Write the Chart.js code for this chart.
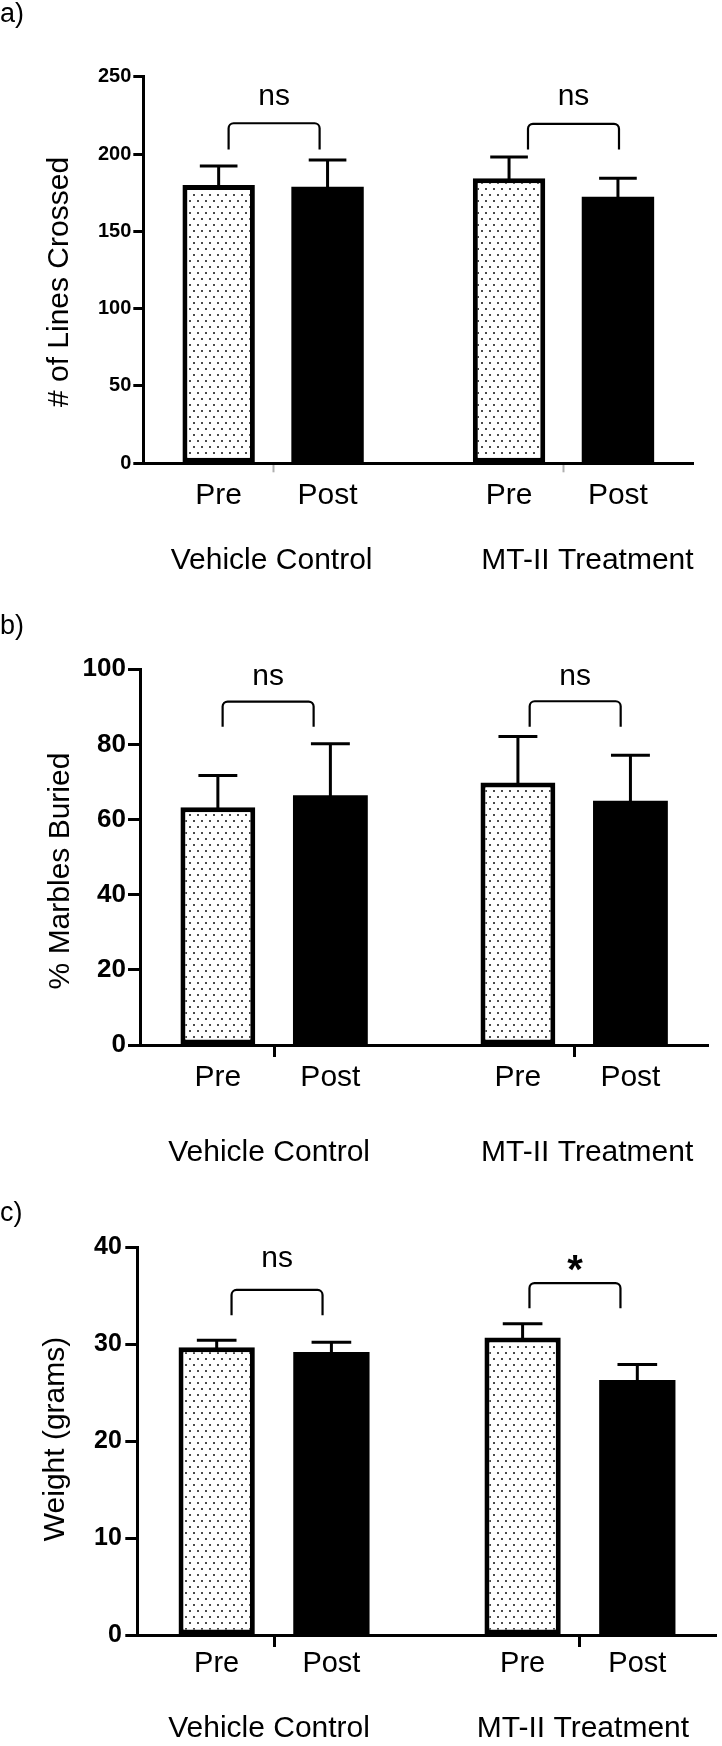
<!DOCTYPE html>
<html>
<head>
<meta charset="utf-8">
<script src="https://cdn.jsdelivr.net/npm/chart.js@4.4.1/dist/chart.umd.min.js"></script>
<style>
html, body { margin: 0; padding: 0; background: #fff; }
#wrap { position: relative; width: 722px; height: 1746px; overflow: hidden; background: #fff; }
#wrap canvas { position: absolute; left: 0; }
</style>
</head>
<body>
<div id="wrap">
  <canvas id="ca" width="722" height="590" style="top:0px"></canvas>
  <canvas id="cb" width="722" height="580" style="top:590px"></canvas>
  <canvas id="cc" width="722" height="576" style="top:1170px"></canvas>
</div>
<script>
// ---------------- DATA ----------------
const groups = ['Vehicle Control', 'MT-II Treatment'];
const conditions = ['Pre', 'Post'];

// a) Lines crossed
const linesPre = [180.0, 184.3];
const linesPost = [178.9, 172.3];
const linesPreErr = [12.3, 13.8];
const linesPostErr = [17.3, 12.0];
const linesTicks = [0, 50, 100, 150, 200, 250];
const linesSig = ['ns', 'ns'];
const linesBracketTop = [219.9, 219.5];
const linesBracketLeg = [203.0, 203.0];
const linesSigBase = [231.8, 231.8];

// b) Marbles buried
const marblesPre = [63.3, 69.9];
const marblesPost = [66.5, 65.0];
const marblesPreErr = [8.4, 12.2];
const marblesPostErr = [13.7, 12.1];
const marblesTicks = [0, 20, 40, 60, 80, 100];
const marblesSig = ['ns', 'ns'];
const marblesBracketTop = [91.4, 91.5];
const marblesBracketLeg = [84.7, 84.7];
const marblesSigBase = [95.9, 95.7];

// c) Weight
const weightPre = [29.7, 30.7];
const weightPost = [29.2, 26.3];
const weightPreErr = [0.7, 1.4];
const weightPostErr = [1.0, 1.6];
const weightTicks = [0, 10, 20, 30, 40];
const weightSig = ['ns', '*'];
const weightBracketTop = [35.6, 36.3];
const weightBracketLeg = [33.0, 33.7];
const weightSigBase = [38.0, 37.6];

// ---------------- STYLE / LAYOUT ----------------
const FONT = "'Liberation Sans', Arial, Helvetica, sans-serif";
Chart.defaults.font.family = FONT;
Chart.defaults.color = '#000';

const panels = [
  { id: 'ca', letter: 'a)', title: '# of Lines Crossed',
    pre: linesPre, post: linesPost, preErr: linesPreErr, postErr: linesPostErr,
    ticks: linesTicks, sig: linesSig, bTop: linesBracketTop, bLeg: linesBracketLeg, sigBase: linesSigBase,
    canvasTop: 0, height: 590, area: { left: 143.3, right: 693.3, top: 76.7, bottom: 463.3 },
    tickFont: 20, tickLen: 10, tickPad: 2, sepColor: '#b0b0b0', sepWidth: 2, sepLen: 9,
    letterY: 22, titleX: 68, titleY: 282, condDy: 40.7, condFont: 30, groupDy: 106,
    groupDx: [-1.5, 24], bracketDx: [1, 10] },
  { id: 'cb', letter: 'b)', title: '% Marbles Buried',
    pre: marblesPre, post: marblesPost, preErr: marblesPreErr, postErr: marblesPostErr,
    ticks: marblesTicks, sig: marblesSig, bTop: marblesBracketTop, bLeg: marblesBracketLeg, sigBase: marblesSigBase,
    canvasTop: 590, height: 580, area: { left: 140, right: 708.3, top: 669.3, bottom: 1045 },
    tickFont: 26, tickLen: 12, tickPad: 2, sepColor: '#000', sepWidth: 3, sepLen: 12,
    letterY: 634, titleX: 69, titleY: 871, condDy: 41, condFont: 30, groupDy: 116,
    groupDx: [-5, 13], bracketDx: [-6, 1] },
  { id: 'cc', letter: 'c)', title: 'Weight (grams)',
    pre: weightPre, post: weightPost, preErr: weightPreErr, postErr: weightPostErr,
    ticks: weightTicks, sig: weightSig, bTop: weightBracketTop, bLeg: weightBracketLeg, sigBase: weightSigBase,
    canvasTop: 1170, height: 576, area: { left: 137.3, right: 716.7, top: 1247.3, bottom: 1635 },
    tickFont: 25, tickLen: 12, tickPad: 3.5, sepColor: '#000', sepWidth: 3, sepLen: 12,
    letterY: 1221, titleX: 64, titleY: 1439, condDy: 37, condFont: 29, groupDy: 102,
    groupDx: [-5, 3], bracketDx: [3, -5] }
];

// dotted fill for the "Pre" bars
function makeDots() {
  const pc = document.createElement('canvas');
  pc.width = 8; pc.height = 12;
  const g = pc.getContext('2d');
  g.fillStyle = '#ffffff'; g.fillRect(0, 0, 8, 12);
  g.fillStyle = '#4a4a4a';
  g.fillRect(1, 2, 2, 2);
  g.fillRect(5, 8, 2, 2);
  return g.createPattern(pc, 'repeat');
}

function buildChart(P) {
  const canvas = document.getElementById(P.id);
  const ctx0 = canvas.getContext('2d');
  const dots = makeDots();
  const localTop = P.area.top - P.canvasTop;
  const localBottom = P.area.bottom - P.canvasTop;

  const annot = {
    id: 'annot_' + P.id,
    afterDraw(chart) {
      const ctx = chart.ctx;
      const xs = chart.scales.x, ys = chart.scales.y;
      const axisY = chart.chartArea.bottom;
      ctx.save();
      ctx.fillStyle = '#000';
      ctx.strokeStyle = '#000';

      // error bars (upper only)
      const sets = [[chart.getDatasetMeta(0), P.pre, P.preErr], [chart.getDatasetMeta(1), P.post, P.postErr]];
      sets.forEach(([meta, vals, errs]) => {
        meta.data.forEach((bar, i) => {
          const x = bar.x, w = bar.width;
          const yTop = ys.getPixelForValue(vals[i]);
          const yCap = ys.getPixelForValue(vals[i] + errs[i]);
          ctx.lineWidth = 3; ctx.lineCap = 'butt';
          ctx.beginPath(); ctx.moveTo(x, yTop + 2); ctx.lineTo(x, yCap); ctx.stroke();
          ctx.beginPath(); ctx.moveTo(x - w * 0.26, yCap); ctx.lineTo(x + w * 0.26, yCap); ctx.stroke();
        });
      });

      // brackets + significance labels
      groups.forEach((g, i) => {
        const cx = xs.getPixelForValue(i) + P.bracketDx[i];
        const half = 45.5;
        const x1 = cx - half, x2 = cx + half;
        const yt = ys.getPixelForValue(P.bTop[i]);
        const yb = ys.getPixelForValue(P.bLeg[i]);
        const r = 5;
        ctx.lineWidth = 2.2; ctx.lineJoin = 'round';
        ctx.beginPath();
        ctx.moveTo(x1, yb);
        ctx.lineTo(x1, yt + r);
        ctx.arcTo(x1, yt, x1 + r, yt, r);
        ctx.lineTo(x2 - r, yt);
        ctx.arcTo(x2, yt, x2, yt + r, r);
        ctx.lineTo(x2, yb);
        ctx.stroke();

        const txt = P.sig[i];
        ctx.font = (txt === '*' ? 'bold 40px ' : '30px ') + FONT;
        ctx.textAlign = 'center'; ctx.textBaseline = 'alphabetic';
        const m = ctx.measureText(txt);
        const yBottom = ys.getPixelForValue(P.sigBase[i]);
        ctx.fillText(txt, cx, yBottom - m.actualBoundingBoxDescent);
      });

      // condition labels under each bar
      ctx.font = P.condFont + 'px ' + FONT;
      ctx.textAlign = 'center'; ctx.textBaseline = 'alphabetic';
      [chart.getDatasetMeta(0), chart.getDatasetMeta(1)].forEach((meta, d) => {
        meta.data.forEach((bar) => {
          ctx.fillText(conditions[d], bar.x, axisY + P.condDy);
        });
      });

      // group labels
      ctx.font = '30px ' + FONT;
      groups.forEach((g, i) => {
        ctx.fillText(g, xs.getPixelForValue(i) + P.groupDx[i], axisY + P.groupDy);
      });

      // y axis title
      ctx.save();
      ctx.translate(P.titleX, P.titleY - P.canvasTop);
      ctx.rotate(-Math.PI / 2);
      ctx.font = '30px ' + FONT;
      ctx.textAlign = 'center'; ctx.textBaseline = 'alphabetic';
      ctx.fillText(P.title, 0, 0);
      ctx.restore();

      // panel letter
      ctx.font = '27px ' + FONT;
      ctx.textAlign = 'left'; ctx.textBaseline = 'alphabetic';
      ctx.fillText(P.letter, 0, P.letterY - P.canvasTop);

      ctx.restore();
    }
  };

  return new Chart(ctx0, {
    type: 'bar',
    data: {
      datasets: [
        { label: conditions[0],
          data: groups.map((g, i) => ({ x: i, y: P.pre[i] })),
          backgroundColor: dots, borderColor: '#000', borderWidth: 5, borderSkipped: false },
        { label: conditions[1],
          data: groups.map((g, i) => ({ x: i, y: P.post[i] })),
          backgroundColor: '#000', borderWidth: 0 }
      ]
    },
    options: {
      responsive: false,
      animation: false,
      events: [],
      layout: { padding: { left: 0, right: 722 - P.area.right, top: localTop, bottom: 0 } },
      datasets: { bar: { categoryPercentage: 0.75, barPercentage: 0.665 } },
      plugins: { legend: { display: false }, tooltip: { enabled: false }, title: { display: false } },
      scales: {
        x: {
          type: 'linear', min: -0.447, max: 1.447, offset: false,
          afterBuildTicks: (s) => { s.ticks = groups.map((g, i) => ({ value: i })); },
          afterFit: (s) => { s.height = P.height - localBottom; },
          grid: { display: true, drawOnChartArea: false, drawTicks: true, offset: false,
                  tickLength: P.sepLen, tickWidth: P.sepWidth, tickColor: P.sepColor, color: P.sepColor },
          border: { display: true, color: '#000', width: 3, z: 1 },
          ticks: { display: false }
        },
        y: {
          type: 'linear', min: 0, max: P.ticks[P.ticks.length - 1],
          afterBuildTicks: (s) => { s.ticks = P.ticks.map(v => ({ value: v })); },
          afterFit: (s) => { s.width = P.area.left; },
          grid: { display: true, drawOnChartArea: false, drawTicks: true,
                  tickLength: P.tickLen, tickWidth: 3, tickColor: '#000' },
          border: { display: true, color: '#000', width: 3, z: 1 },
          ticks: { font: { family: FONT, size: P.tickFont, weight: 'bold' }, color: '#000', padding: P.tickPad }
        }
      }
    },
    plugins: [annot]
  });
}

panels.forEach(buildChart);
</script>
</body>
</html>
